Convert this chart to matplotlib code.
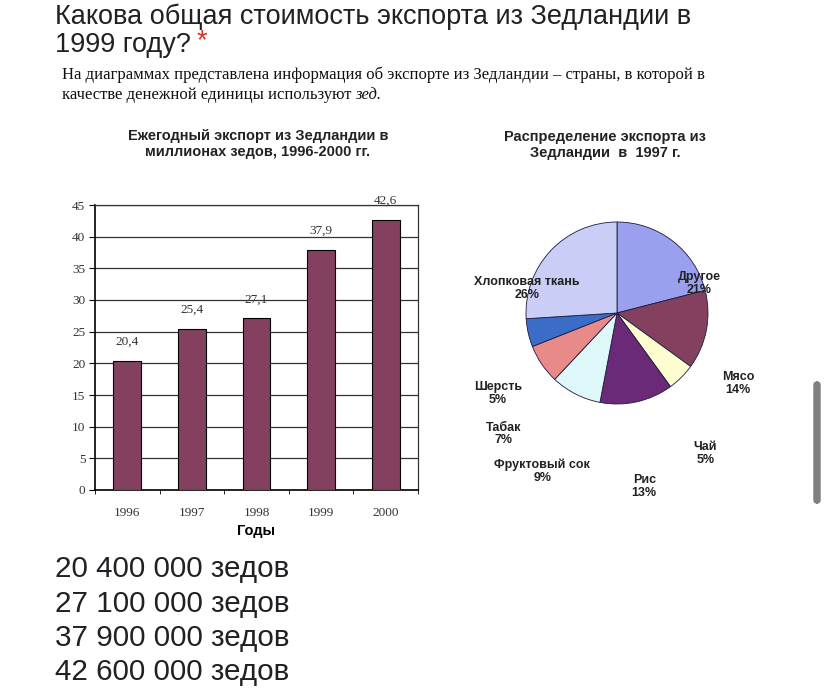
import matplotlib
matplotlib.use("Agg")
import matplotlib.pyplot as plt
from matplotlib.patches import FancyBboxPatch

# --------------------------
# DATA
# --------------------------
years = ["1996", "1997", "1998", "1999", "2000"]
exports = [20.4, 25.4, 27.1, 37.9, 42.6]
value_labels = ["20,4", "25,4", "27,1", "37,9", "42,6"]

pie_names = ["Другое", "Мясо", "Чай", "Рис", "Фруктовый сок",
             "Табак", "Шерсть", "Хлопковая ткань"]
pie_shares = [21, 14, 5, 13, 9, 7, 5, 26]
pie_colors = ["#9a9fee", "#83405f", "#fdfdd0", "#6a2a78", "#def8f9",
              "#e88a88", "#3b6cc6", "#cacdf5"]
# label positions in pie units (radius = 1)
pie_label_xy = [(0.90, 0.32), (1.33, -0.77), (0.97, -1.54), (0.30, -1.91),
                (-0.82, -1.74), (-1.25, -1.33), (-1.31, -0.88), (-0.99, 0.27)]

answers = ["20 400 000 зедов", "27 100 000 зедов",
           "37 900 000 зедов", "42 600 000 зедов"]

W, H = 826, 688
fig = plt.figure(figsize=(W / 100, H / 100), dpi=100)


def fx(px):
    return px / W


def fy(py):
    return 1 - py / H


sans = "Liberation Sans"
serif = "Liberation Serif"

# --------------------------
# HEADER
# --------------------------
fig.text(fx(55), fy(24), "Какова общая стоимость экспорта из Зедландии в",
         fontsize=19.5, family=sans, color="#202124", va="baseline")
q = fig.text(fx(55), fy(52), "1999 году?", fontsize=19.5, family=sans,
             color="#202124", va="baseline")
fig.canvas.draw()
bb = q.get_window_extent()
fig.text(fx(bb.x1 + 6), fy(41), "*", fontsize=19.5, family=sans,
         color="#d93025", va="center")

fig.text(fx(62), fy(75),
         "На диаграммах представлена информация об экспорте из Зедландии – страны, в которой в",
         fontsize=12, family=serif, color="#111111", va="center")
t2 = fig.text(fx(62), fy(95), "качестве денежной единицы используют ",
              fontsize=12, family=serif, color="#111111", va="center")
fig.canvas.draw()
bb = t2.get_window_extent()
fig.text(fx(bb.x1), fy(95), "зед.", fontsize=12, family=serif,
         style="italic", color="#111111", va="center")

# --------------------------
# BAR CHART
# --------------------------
ax = fig.add_axes([fx(95), fy(490), fx(418) - fx(95), fy(205) - fy(490)])
x = range(len(years))
ax.bar(x, exports, width=0.43, color="#83405f", edgecolor="black",
       linewidth=0.8, zorder=3)
for xi, v, lab in zip(x, exports, value_labels):
    ax.text(xi, v + 3.0, lab, ha="center", va="center", fontsize=9.5,
            family=serif, color="#333333")
ax.set_xlim(-0.5, 4.5)
ax.set_ylim(0, 45)
ax.set_yticks(range(0, 46, 5))
ax.set_xticks(list(x))
ax.set_xticklabels(years)
ax.set_xticks([i + 0.5 for i in range(-1, 5)], minor=True)
ax.tick_params(axis="x", which="major", length=0, pad=12)
ax.tick_params(axis="x", which="minor", length=3, direction="out")
ax.tick_params(axis="y", length=4, direction="out", pad=3)
for lab in ax.get_xticklabels() + ax.get_yticklabels():
    lab.set_family(serif)
    lab.set_fontsize(9.5)
    lab.set_color("#333333")
ax.grid(axis="y", color="#333333", linewidth=0.9, zorder=0)
for s in ax.spines.values():
    s.set_linewidth(0.9)
    s.set_color("#333333")
ax.spines["left"].set_color("black")
ax.spines["left"].set_linewidth(1.2)
ax.spines["bottom"].set_color("black")
ax.spines["bottom"].set_linewidth(1.2)
ax.set_xlabel("Годы", family=sans, fontweight="bold", fontsize=10.5,
              labelpad=4)

fig.text(fx(258), fy(144), "Ежегодный экспорт из Зедландии в\nмиллионах зедов, 1996-2000 гг.",
         ha="center", va="center", fontsize=10.5, family=sans,
         fontweight="bold", color="#222222", linespacing=1.25)

# --------------------------
# PIE CHART
# --------------------------
pcx, pcy, r = 617, 313, 91
pax = fig.add_axes([fx(pcx - r), fy(pcy + r), fx(2 * r), fy(0) - fy(2 * r)])
pax.pie(pie_shares, colors=pie_colors, startangle=90, counterclock=False,
        wedgeprops=dict(edgecolor="#1a1a40", linewidth=0.6))
pax.set_xlim(-1, 1)
pax.set_ylim(-1, 1)
pax.set_aspect("auto")
for name, share, (lx, ly) in zip(pie_names, pie_shares, pie_label_xy):
    pax.text(lx, ly, f"{name}\n{share}%", ha="center", va="center",
             fontsize=9, family=sans, fontweight="bold", color="#222222",
             linespacing=1.1, clip_on=False)

fig.text(fx(605), fy(145), "Распределение экспорта из\nЗедландии  в  1997 г.",
         ha="center", va="center", fontsize=10.5, family=sans,
         fontweight="bold", color="#222222", linespacing=1.25)

# --------------------------
# ANSWER OPTIONS
# --------------------------
for i, a in enumerate(answers):
    fig.text(fx(55), fy(577 + 34.5 * i), a, fontsize=21.3, family=sans,
             color="#202124", va="baseline")

# scrollbar
fig.patches.append(FancyBboxPatch((fx(814), fy(503)), fx(6), fy(382) - fy(503),
                                  boxstyle="round,pad=0,rounding_size=0.004",
                                  transform=fig.transFigure, color="#808080",
                                  figure=fig))

fig.savefig("out.png", dpi=100)
